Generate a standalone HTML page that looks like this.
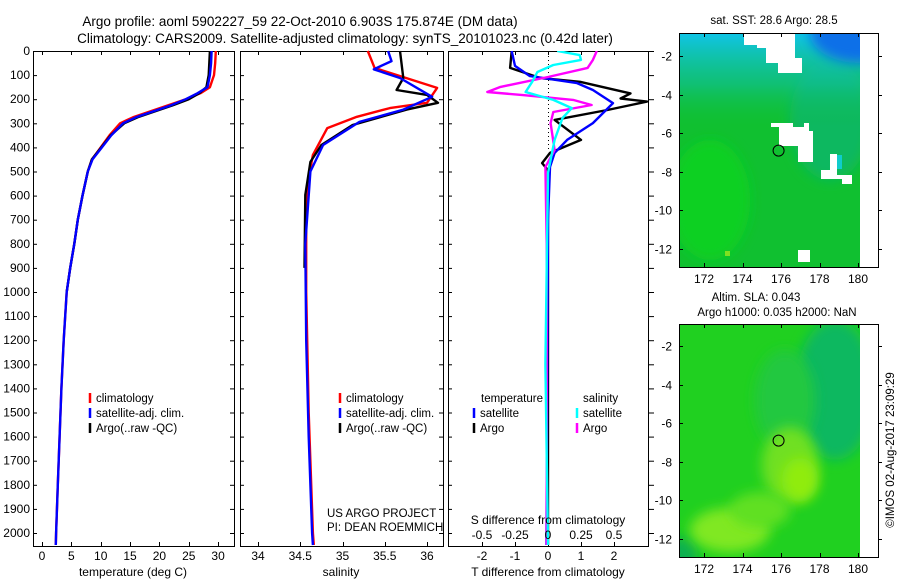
<!DOCTYPE html>
<html><head><meta charset="utf-8"><style>
html,body{margin:0;padding:0;background:#fff;}
svg{display:block;font-family:"Liberation Sans",sans-serif;}
</style></head><body>
<svg id="chart" width="900" height="580" viewBox="0 0 900 580" xmlns="http://www.w3.org/2000/svg">
<defs>
<clipPath id="c3"><rect x="448" y="51" width="200" height="495"/></clipPath>
<clipPath id="m1"><rect x="679" y="33" width="181" height="234"/></clipPath>
<clipPath id="m2"><rect x="679" y="324" width="181" height="233"/></clipPath>
<filter id="bl" x="-50%" y="-50%" width="200%" height="200%"><feGaussianBlur stdDeviation="6"/></filter>
<linearGradient id="topg" x1="0" y1="0" x2="0" y2="1">
<stop offset="0" stop-color="#10c4e8"/><stop offset="0.22" stop-color="#10c0a0" stop-opacity="0.6"/><stop offset="0.4" stop-color="#10c040" stop-opacity="0"/></linearGradient>
</defs>
<text x="300" y="26" font-size="13.5" text-anchor="middle">Argo profile: aoml 5902227_59 22-Oct-2010 6.903S 175.874E (DM data)</text>
<text x="345" y="43" font-size="13.5" text-anchor="middle">Climatology: CARS2009. Satellite-adjusted climatology: synTS_20101023.nc (0.42d later)</text>
<g id="plots"></g>

<!-- maps -->
<g clip-path="url(#m1)">
<rect x="679" y="33" width="181" height="234" fill="#10c030"/>
<ellipse cx="710" cy="200" rx="40" ry="60" fill="#10d020" filter="url(#bl)"/>
<ellipse cx="830" cy="120" rx="40" ry="60" fill="#10b860" filter="url(#bl)"/>
<rect x="679" y="33" width="181" height="234" fill="url(#topg)"/>
<ellipse cx="860" cy="33" rx="50" ry="30" fill="#1070e8" filter="url(#bl)"/>
<rect x="830" y="155" width="12" height="14" fill="#10cccc"/>
<polygon fill="#fff" points="744,33 795,33 795,58 802,58 802,73 778,73 778,63 766,63 766,48 757,48 757,45 744,45"/>
<polygon fill="#fff" points="771,123 793,123 793,127 804,127 804,123 809,123 809,131 813,131 813,162 798,162 798,146 779,146 779,127 771,127"/>
<polygon fill="#fff" points="830,154 837,154 837,175 852,175 852,184 842,184 842,179 821,179 821,170 830,170"/>
<rect x="798" y="250" width="12" height="12" fill="#fff"/>
<rect x="725" y="251" width="5" height="5" fill="#80e020"/>
<rect x="860" y="33" width="18" height="234" fill="#fff"/>
</g>
<g clip-path="url(#m2)">
<rect x="679" y="324" width="181" height="233" fill="#20d020"/>
<ellipse cx="835" cy="390" rx="40" ry="70" fill="#10b860" filter="url(#bl)"/>
<ellipse cx="785" cy="400" rx="30" ry="50" fill="#20c840" filter="url(#bl)"/>
<ellipse cx="680" cy="555" rx="18" ry="18" fill="#10b050" filter="url(#bl)"/>
<ellipse cx="790" cy="465" rx="28" ry="38" fill="#70e020" filter="url(#bl)"/>
<ellipse cx="800" cy="480" rx="18" ry="22" fill="#90ec10" filter="url(#bl)"/>
<ellipse cx="730" cy="530" rx="40" ry="22" fill="#80e820" filter="url(#bl)"/>
<ellipse cx="760" cy="510" rx="30" ry="18" fill="#60e020" filter="url(#bl)"/>
<rect x="860" y="324" width="18" height="233" fill="#fff"/>
</g>
<text x="774" y="24" font-size="11.5" text-anchor="middle">sat. SST: 28.6 Argo: 28.5</text>
<text x="756" y="301" font-size="11.5" text-anchor="middle">Altim. SLA: 0.043</text>
<text x="777" y="316" font-size="11.5" text-anchor="middle">Argo h1000: 0.035 h2000: NaN</text>
<text transform="translate(894,450) rotate(-90)" font-size="11.5" text-anchor="middle">©IMOS 02-Aug-2017 23:09:29</text>
<g id="maps"></g>
</svg>
<script>
// ---------- data ----------
var depthTicks = [0,100,200,300,400,500,600,700,800,900,1000,1100,1200,1300,1400,1500,1600,1700,1800,1900,2000];
var tempTicks = [0,5,10,15,20,25,30];
var salTicks = [34,34.5,35,35.5,36];
var salTickLabels = ['34','34.5','35','35.5','36'];
var tdTicks = [-2,-1,0,1,2];
var sdTicks = [-0.5,-0.25,0,0.25,0.5];
var sdTickLabels = ['-0.5','-0.25','0','0.25','0.5'];
var lonTicks = [172,174,176,178,180];
var latTicks = [-2,-4,-6,-8,-10,-12];

var tempClimD = [0,50,100,150,175,200,225,250,275,300,350,400,450,500,600,700,800,900,1000,1200,1400,1600,1800,2000,2050];
var tempClim  = [29.6,29.5,29.3,28.6,27.0,24.5,21.5,18.5,15.5,13.3,11.5,10.0,8.5,7.8,6.9,6.1,5.5,4.8,4.2,3.7,3.3,3.0,2.7,2.4,2.35];
var tempSatD  = [0,50,100,150,175,200,225,250,275,300,350,400,450,500,600,700,800,900,1000,1200,1400,1600,1800,2000,2050];
var tempSat   = [28.9,28.8,28.6,28.2,26.5,24.5,22.0,19.0,16.0,13.8,11.8,10.2,8.6,7.8,6.9,6.1,5.5,4.8,4.2,3.7,3.3,3.0,2.7,2.4,2.35];
var tempArgoD = [0,50,100,150,175,200,225,250,275,300,350,400,450,500,600,700,800,900,1000];
var tempArgo  = [28.6,28.5,28.4,28.0,26.8,25.0,22.3,19.3,16.3,14.0,11.7,10.1,8.5,7.8,6.9,6.1,5.5,4.8,4.2];

var salClimD = [0,70,153,215,237,273,320,431,527,700,1000,1500,2000,2050];
var salClim  = [35.30,35.38,36.12,36.0,35.56,35.17,34.82,34.65,34.60,34.57,34.57,34.60,34.65,34.66];
var salSatD  = [0,42,76,112,190,243,294,390,500,800,1200,1600,2000,2050];
var salSat   = [35.54,35.58,35.37,35.68,36.06,35.72,35.2,34.77,34.62,34.56,34.57,34.6,34.64,34.65];
var salArgoD = [0,112,162,182,215,243,307,390,460,597,900];
var salArgo  = [35.68,35.72,35.64,36.0,36.13,35.76,35.12,34.75,34.62,34.56,34.55];

var dTArgoD = [0,70,112,128,176,197,210,245,286,369,423,465,494,700,1200,2050];
var dTArgo  = [-1.1,-1.15,-0.24,0.97,2.5,2.2,3.0,1.8,0.2,1.0,0.06,-0.18,0,0,0,0];
var dTSatD  = [0,62,104,133,162,216,299,369,423,481,700,2050];
var dTSat   = [-1.1,-1.0,-0.55,0.88,1.36,1.97,1.36,0.58,0.2,0.06,0,-0.05];
var dSArgoD = [0,37,70,108,149,170,183,203,224,253,299,411,481,800,2050];
var dSArgo  = [0.37,0.34,0.3,0,-0.36,-0.46,-0.19,0.19,0.33,0.04,0.02,0.05,-0.02,-0.01,-0.01];
var dSSatD  = [0,17,37,58,87,128,170,203,237,278,369,506,1300,2050];
var dSSat   = [0.07,0.24,0.25,0.04,-0.08,-0.12,-0.17,0.04,0.18,0.11,0.05,0,-0.02,0];

var floatLon = [175.874];
var floatLat = [-6.903];

// ---------- axes ----------
var NS='http://www.w3.org/2000/svg';
function yD(d){return 51+d*0.241;}
function xT(t){return 42+t*5.87;}
function xS(s){return 258+(s-34)*84.5;}
function xTD(t){return 548+t*33;}
function xSD(s){return 548+s*132;}
function mX(lon){return 704+(lon-172)*19.25;}
function m1Y(lat){return 56+(-2-lat)*19.3;}
function m2Y(lat){return 346+(-2-lat)*19.3;}

function mk(tag,attrs,parent){var e=document.createElementNS(NS,tag);for(var k in attrs)e.setAttribute(k,attrs[k]);parent.appendChild(e);return e;}
var P=document.getElementById('plots');
var M=document.getElementById('maps');

function line(xs,ds,fx,color,name,parent,clip){
  var pts=[];for(var i=0;i<xs.length;i++)pts.push(fx(xs[i]).toFixed(1)+','+yD(ds[i]).toFixed(1));
  var a={points:pts.join(' '),fill:'none',stroke:color,'stroke-width':2.4,'stroke-linejoin':'round'};
  if(clip)a['clip-path']=clip;
  var e=mk('polyline',a,parent);
  
  
}
function txt(x,y,s,size,anchor,name,parent){
  var e=mk('text',{x:x,y:y,'font-size':size,'text-anchor':anchor||'start'},parent);e.textContent=s;
  
  
  return e;
}
function frame(x,y,w,h,name,parent){
  var e=mk('rect',{x:x+0.5,y:y+0.5,width:w,height:h,fill:'none',stroke:'#000','stroke-width':1},parent);
  
  
}
function yTicks(x0,x1,parent){
  depthTicks.forEach(function(d){var y=yD(d)+0.5;
    mk('line',{x1:x0,y1:y,x2:x0+4,y2:y,stroke:'#000'},parent);
    mk('line',{x1:x1-4,y1:y,x2:x1,y2:y,stroke:'#000'},parent);});
}
function xTicks(vals,fx,parent){
  vals.forEach(function(v){var x=Math.round(fx(v))+0.5;
    mk('line',{x1:x,y1:546,x2:x,y2:542,stroke:'#000'},parent);
    mk('line',{x1:x,y1:51,x2:x,y2:55,stroke:'#000'},parent);});
}

// panel 1
var g1=mk('g',{},P);


frame(33,51,201,495,'temperature-axes-frame',g1);
yTicks(33,234,g1);xTicks(tempTicks,xT,g1);
depthTicks.forEach(function(d){txt(30,yD(d)+4,String(d),12,'end','depth-tick-label',g1);});
tempTicks.forEach(function(t){txt(xT(t),560,String(t),12,'middle','temperature-tick-label',g1);});
txt(133,576,'temperature (deg C)',12,'middle','temperature-axis-title',g1);
line(tempClim,tempClimD,xT,'#f00','temp-climatology-line',g1);
line(tempArgo,tempArgoD,xT,'#000','temp-argo-line',g1);
line(tempSat,tempSatD,xT,'#00f','temp-satellite-line',g1);
function legend(x,y,color,label,parent,name){
  var l=mk('line',{x1:x,y1:y-9,x2:x,y2:y+1,stroke:color,'stroke-width':2.5},parent);
  
  
  txt(x+6,y,label,11.5,'start',name+'-label',parent);
}
legend(90,402,'#f00','climatology',g1,'legend-climatology');
legend(90,417,'#00f','satellite-adj. clim.',g1,'legend-satellite');
legend(90,432,'#000','Argo(..raw -QC)',g1,'legend-argo');

// panel 2
var g2=mk('g',{},P);


frame(240,51,203,495,'salinity-axes-frame',g2);
yTicks(240,443,g2);xTicks(salTicks,xS,g2);
salTicks.forEach(function(s,i){txt(xS(s),560,salTickLabels[i],12,'middle','salinity-tick-label',g2);});
txt(341,576,'salinity',12,'middle','salinity-axis-title',g2);
line(salClim,salClimD,xS,'#f00','sal-climatology-line',g2);
line(salArgo,salArgoD,xS,'#000','sal-argo-line',g2);
line(salSat,salSatD,xS,'#00f','sal-satellite-line',g2);
legend(340,402,'#f00','climatology',g2,'legend-climatology');
legend(340,417,'#00f','satellite-adj. clim.',g2,'legend-satellite');
legend(340,432,'#000','Argo(..raw -QC)',g2,'legend-argo');
txt(327,517,'US ARGO PROJECT',11.5,'start','project-label',g2);
txt(327,531,'PI: DEAN ROEMMICH',11.5,'start','pi-label',g2);

// panel 3
var g3=mk('g',{},P);


frame(448,51,200,495,'difference-axes-frame',g3);
depthTicks.forEach(function(d){var y=yD(d)+0.5;
  mk('line',{x1:448,y1:y,x2:452,y2:y,stroke:'#000'},g3);
  mk('line',{x1:649,y1:y,x2:654,y2:y,stroke:'#000'},g3);});
xTicks(tdTicks,xTD,g3);
var dz=mk('line',{x1:548.5,y1:52,x2:548.5,y2:150,stroke:'#000','stroke-dasharray':'1,3'},g3);


line(dTArgo,dTArgoD,xTD,'#000','tdiff-argo-line',g3,'url(#c3)');
line(dTSat,dTSatD,xTD,'#00f','tdiff-satellite-line',g3,'url(#c3)');
line(dSArgo,dSArgoD,xSD,'#f0f','sdiff-argo-line',g3,'url(#c3)');
line(dSSat,dSSatD,xSD,'#0ff','sdiff-satellite-line',g3,'url(#c3)');
tdTicks.forEach(function(t){txt(xTD(t),560,String(t),12,'middle','tdiff-tick-label',g3);});
sdTicks.forEach(function(s,i){txt(xSD(s),539,sdTickLabels[i],12,'middle','sdiff-tick-label',g3);});
txt(548,524,'S difference from climatology',12,'middle','sdiff-axis-title',g3);
txt(548,576,'T difference from climatology',12,'middle','tdiff-axis-title',g3);
txt(481,402,'temperature',11.5,'start','legend-temperature-heading',g3);
txt(583,402,'salinity',11.5,'start','legend-salinity-heading',g3);
legend(474,417,'#00f','satellite',g3,'legend-t-satellite');
legend(474,432,'#000','Argo',g3,'legend-t-argo');
legend(577,417,'#0ff','satellite',g3,'legend-s-satellite');
legend(577,432,'#f0f','Argo',g3,'legend-s-argo');

// maps axes
function mapAxes(y0,h,fy,name){
  var g=mk('g',{},M);
  
  
  frame(679,y0,199,h,name+'-frame',g);
  lonTicks.forEach(function(l){var x=Math.round(mX(l))+0.5;
    mk('line',{x1:x,y1:y0+h,x2:x,y2:y0+h-4,stroke:'#000'},g);
    mk('line',{x1:x,y1:y0,x2:x,y2:y0+4,stroke:'#000'},g);
    txt(mX(l),y0+h+16,String(l),12,'middle',name+'-lon-label',g);});
  latTicks.forEach(function(l){var y=Math.round(fy(l))+0.5;
    mk('line',{x1:679,y1:y,x2:683,y2:y,stroke:'#000'},g);
    mk('line',{x1:878,y1:y,x2:882,y2:y,stroke:'#000'},g);
    txt(672,y+4,String(l),12,'end',name+'-lat-label',g);});
  var c=mk('circle',{cx:mX(floatLon[0]),cy:fy(floatLat[0]),r:5.5,fill:'none',stroke:'#000','stroke-width':1},g);
  
  
}
mapAxes(33,234,m1Y,'sst-map-axes');
mapAxes(324,233,m2Y,'sla-map-axes');
</script>
</body></html>
